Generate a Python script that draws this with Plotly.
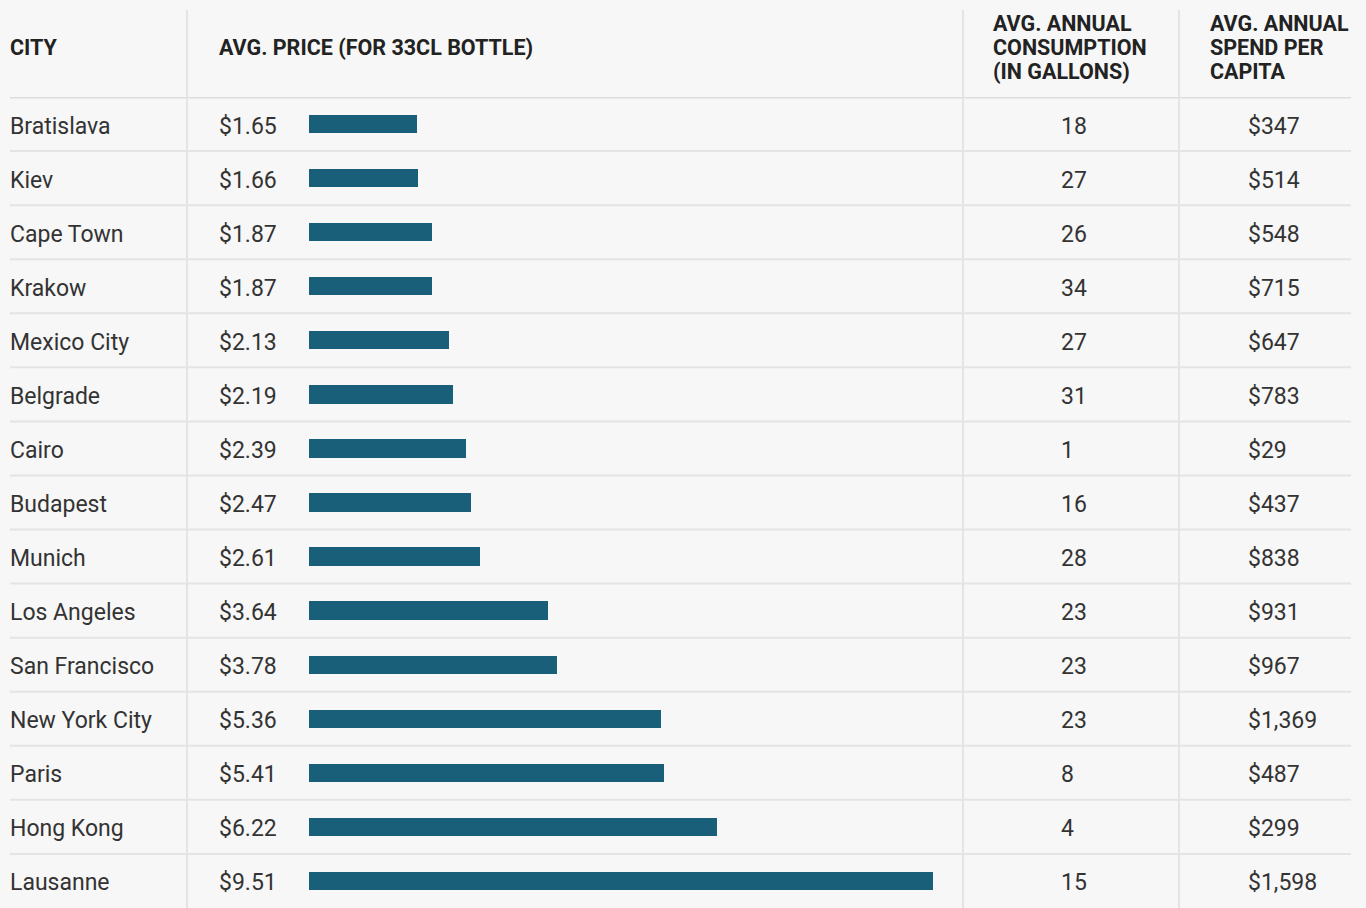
import plotly.graph_objects as go

W, H = 1366, 908

cities = ["Bratislava", "Kiev", "Cape Town", "Krakow", "Mexico City", "Belgrade", "Cairo",
          "Budapest", "Munich", "Los Angeles", "San Francisco", "New York City", "Paris",
          "Hong Kong", "Lausanne"]
prices = [1.65, 1.66, 1.87, 1.87, 2.13, 2.19, 2.39, 2.47, 2.61, 3.64, 3.78, 5.36, 5.41, 6.22, 9.51]
consumption = [18, 27, 26, 34, 27, 31, 1, 16, 28, 23, 23, 23, 8, 4, 15]
spend = [347, 514, 548, 715, 647, 783, 29, 437, 838, 931, 967, 1369, 487, 299, 1598]

header_city = ["CITY"]
header_price = ["AVG. PRICE (FOR 33CL BOTTLE)"]
header_cons = ["AVG. ANNUAL", "CONSUMPTION", "(IN GALLONS)"]
header_spend = ["AVG. ANNUAL", "SPEND PER", "CAPITA"]

BAR = "#1a5f7a"
TXT = "#333333"
HDR = "#222222"
FONT = "Roboto"
BG = "#f7f7f7"
LINE = "#e4e4e4"

def px(x):
    return x / W

def py(y):
    return 1 - y / H

header_bottom = 97

fig = go.Figure()
fig.add_trace(go.Bar(
    x=prices, y=cities, orientation="h",
    marker=dict(color=BAR, line=dict(width=0)),
    width=0.34, hoverinfo="skip",
))

ann = []

def header(lines, x):
    n = len(lines)
    for k, t in enumerate(lines):
        yc = 47 + (k - (n - 1) / 2) * 24
        ann.append(dict(text=t, x=px(x), y=py(yc), xref="paper", yref="paper",
                        xanchor="left", yanchor="middle", showarrow=False, align="left",
                        font=dict(family=FONT, size=21.5, color=HDR, weight="bold")))

header(header_city, 8)
header(header_price, 217)
header(header_cons, 991)
header(header_spend, 1208)

FS = 23

def cell(text, x, c):
    ann.append(dict(text=text, x=px(x), y=c, xref="paper", yref="y", xanchor="left",
                    yanchor="middle", showarrow=False, yshift=-2,
                    font=dict(family=FONT, size=FS, color=TXT)))

for c, p, cons, s in zip(cities, prices, consumption, spend):
    cell(c, 8, c)
    cell(f"${p:.2f}", 217, c)
    cell(str(cons), 1059, c)
    cell(f"${s:,}", 1246, c)

shapes = []
shapes.append(dict(type="line", xref="paper", yref="y", x0=px(10), x1=px(1351), y0=-0.5, y1=-0.5,
                   line=dict(color="#dddddd", width=3)))
for i in range(len(cities) - 1):
    shapes.append(dict(type="line", xref="paper", yref="y", x0=px(10), x1=px(1351),
                       y0=i + 0.5, y1=i + 0.5, line=dict(color=LINE, width=2)))
for x in [187, 963, 1179]:
    shapes.append(dict(type="line", xref="paper", yref="paper", x0=px(x), x1=px(x),
                       y0=0, y1=py(10), line=dict(color=LINE, width=2)))

fig.update_layout(
    width=W, height=H,
    margin=dict(l=0, r=0, t=0, b=0),
    paper_bgcolor=BG, plot_bgcolor=BG,
    showlegend=False,
    annotations=ann, shapes=shapes,
    xaxis=dict(domain=[px(309), px(933)], range=[0, max(prices)], visible=False, fixedrange=True),
    yaxis=dict(domain=[0, py(header_bottom)], range=[len(cities) - 0.5, -0.5],
               visible=False, fixedrange=True, categoryorder="array", categoryarray=cities),
    bargap=0,
)

fig.write_html(
    "out.html",
    config=dict(displayModeBar=False),
    post_script="document.body.style.margin='0';document.body.style.overflow='hidden';"
                "document.body.style.background='#f7f7f7';",
)
